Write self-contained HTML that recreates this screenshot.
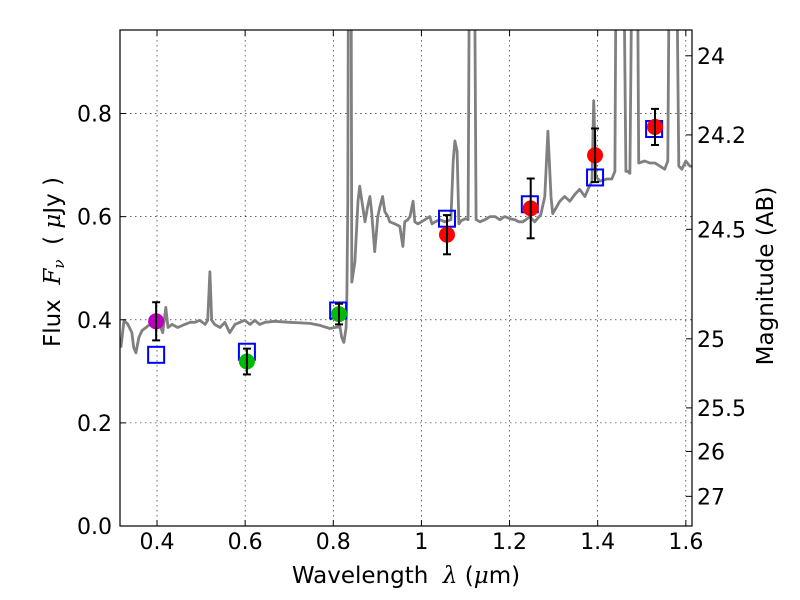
<!DOCTYPE html>
<html><head><meta charset="utf-8"><style>
body{margin:0;background:#fff;}
svg{display:block;font-family:"DejaVu Sans","Liberation Sans",sans-serif;}
</style></head><body>
<svg id="chart" width="800" height="600" viewBox="0 0 800 600"></svg>
<script>
const specLam=[0.318,0.325,0.334,0.343,0.347,0.352,0.359,0.366,0.375,0.384,0.395,0.406,0.413,0.420,0.425,0.434,0.447,0.463,0.475,0.486,0.497,0.509,0.515,0.520,0.524,0.531,0.543,0.554,0.565,0.577,0.588,0.599,0.611,0.622,0.633,0.645,0.667,0.701,0.747,0.770,0.792,0.804,0.815,0.819,0.824,0.829,0.831,0.833,0.835,0.840,0.842,0.849,0.856,0.860,0.865,0.872,0.878,0.883,0.887,0.894,0.901,0.906,0.912,0.917,0.924,0.928,0.940,0.951,0.958,0.962,0.969,0.974,0.981,0.985,0.992,1.008,1.019,1.024,1.031,1.042,1.053,1.067,1.072,1.076,1.081,1.085,1.090,1.099,1.106,1.110,1.119,1.124,1.133,1.144,1.156,1.167,1.178,1.189,1.201,1.212,1.221,1.230,1.237,1.246,1.257,1.271,1.280,1.287,1.294,1.298,1.305,1.314,1.325,1.337,1.348,1.359,1.371,1.378,1.387,1.391,1.396,1.405,1.421,1.432,1.439,1.443,1.457,1.464,1.468,1.473,1.480,1.489,1.493,1.507,1.518,1.530,1.541,1.552,1.559,1.564,1.577,1.584,1.591,1.600,1.609,1.614];
const specFlux=[0.346,0.399,0.391,0.375,0.346,0.336,0.366,0.379,0.385,0.391,0.395,0.391,0.375,0.424,0.385,0.391,0.385,0.391,0.395,0.395,0.399,0.391,0.399,0.493,0.399,0.391,0.385,0.395,0.375,0.391,0.395,0.399,0.391,0.399,0.391,0.395,0.397,0.395,0.393,0.389,0.383,0.385,0.387,0.366,0.356,0.385,0.450,0.630,1.3,1.3,0.473,0.512,0.630,0.659,0.630,0.590,0.620,0.639,0.610,0.532,0.600,0.620,0.639,0.610,0.600,0.590,0.586,0.581,0.542,0.590,0.594,0.600,0.630,0.590,0.586,0.594,0.600,0.586,0.590,0.594,0.590,0.594,0.708,0.747,0.727,0.586,0.592,0.596,0.594,1.3,1.3,0.594,0.590,0.594,0.600,0.600,0.594,0.600,0.596,0.594,0.590,0.590,0.594,0.600,0.590,0.604,0.639,0.766,0.639,0.606,0.616,0.630,0.639,0.630,0.643,0.653,0.639,0.653,0.669,0.825,0.678,0.669,0.673,0.673,0.688,1.3,1.3,0.688,0.688,0.684,1.3,1.3,0.704,0.708,0.704,0.704,0.698,0.692,0.708,1.3,1.3,0.698,0.692,0.708,0.698,0.698];
const photLam=[0.398,0.604,0.813,1.058,1.248,1.394,1.530];
const photFlux=[0.397,0.319,0.411,0.565,0.616,0.719,0.774];
const photErr=[0.037,0.025,0.02,0.038,0.058,0.052,0.035];
const photColor=['#bb00bb','#00bb00','#00bb00','#ff0000','#ff0000','#ff0000','#ff0000'];
const modelLam=[0.398,0.604,0.811,1.058,1.246,1.394,1.528];
const modelFlux=[0.332,0.338,0.418,0.596,0.624,0.676,0.770];
const xTicks=[0.4,0.6,0.8,1.0,1.2,1.4,1.6];
const xTickLabels=['0.4','0.6','0.8','1','1.2','1.4','1.6'];
const yTicks=[0.0,0.2,0.4,0.6,0.8];
const yTickLabels=['0.0','0.2','0.4','0.6','0.8'];
const magTicks=[24,24.2,24.5,25,25.5,26,27];
const magTickLabels=['24','24.2','24.5','25','25.5','26','27'];

const L=120,R=692,T=30,B=526, xmin=0.316,xmax=1.614,ymin=0,ymax=0.962;
const sx=v=>L+(v-xmin)/(xmax-xmin)*(R-L);
const sy=v=>B-(v-ymin)/(ymax-ymin)*(B-T);
const NS='http://www.w3.org/2000/svg';
const svg=document.getElementById('chart');
function mk(tag,attrs,parent){const e=document.createElementNS(NS,tag);for(const k in attrs)e.setAttribute(k,attrs[k]);(parent||svg).appendChild(e);return e;}

const defs=mk('defs',{});
const cp=mk('clipPath',{id:'clip'},defs);mk('rect',{x:L,y:T,width:R-L,height:B-T},cp);

const grid=mk('g',{});


xTicks.forEach(t=>{mk('line',{x1:sx(t),x2:sx(t),y1:T,y2:B,stroke:'#000','stroke-width':0.6,'stroke-dasharray':'1.5,3.5'},grid);});
yTicks.forEach(t=>{mk('line',{x1:L,x2:R,y1:sy(t),y2:sy(t),stroke:'#000','stroke-width':0.6,'stroke-dasharray':'1.5,3.5'},grid);});

let d='';specLam.forEach((l,i)=>{d+=(i?'L':'M')+sx(l).toFixed(1)+','+sy(specFlux[i]).toFixed(1);});
const sp=mk('path',{d:d,fill:'none',stroke:'#808080','stroke-width':2.8,'clip-path':'url(#clip)','stroke-linejoin':'round'});



modelLam.forEach((l,i)=>{
 const r=mk('rect',{x:sx(l)-8,y:sy(modelFlux[i])-8,width:16,height:16,fill:'none',stroke:'#0000ff','stroke-width':2});
 
 
});
photLam.forEach((l,i)=>{
 const g=mk('g',{});
 
 
 const x=sx(l),y1=sy(photFlux[i]+photErr[i]),y2=sy(photFlux[i]-photErr[i]);
 mk('circle',{cx:x,cy:sy(photFlux[i]),r:8,fill:photColor[i]},g);
 mk('line',{x1:x,x2:x,y1:y1,y2:y2,stroke:'#000','stroke-width':2},g);
 mk('line',{x1:x-4,x2:x+4,y1:y1,y2:y1,stroke:'#000','stroke-width':2},g);
 mk('line',{x1:x-4,x2:x+4,y1:y2,y2:y2,stroke:'#000','stroke-width':2},g);
});

const fr=mk('rect',{x:L,y:T,width:R-L,height:B-T,fill:'none',stroke:'#000','stroke-width':1.2});



xTicks.forEach((t,i)=>{
 mk('line',{x1:sx(t),x2:sx(t),y1:B,y2:B-6,stroke:'#000'});
 mk('line',{x1:sx(t),x2:sx(t),y1:T,y2:T+6,stroke:'#000'});
 const tx=mk('text',{x:sx(t),y:B+23,'text-anchor':'middle','font-size':22});
 tx.textContent=xTickLabels[i];
 
 
});
yTicks.forEach((t,i)=>{
 mk('line',{x1:L,x2:L+6,y1:sy(t),y2:sy(t),stroke:'#000'});
 const tx=mk('text',{x:L-8,y:sy(t)+8,'text-anchor':'end','font-size':22});
 tx.textContent=yTickLabels[i];
 
 
});
magTicks.forEach((m,i)=>{
 const f=Math.pow(10,(23.9-m)/2.5), y=sy(f);
 mk('line',{x1:R,x2:R-6,y1:y,y2:y,stroke:'#000'});
 const tx=mk('text',{x:R+5,y:y+8,'text-anchor':'start','font-size':22});
 tx.textContent=magTickLabels[i];
 
 
});
</script>
<svg style="position:absolute;left:0;top:0" width="800" height="600">
<text x="406" y="583" text-anchor="middle" font-size="23" font-family="DejaVu Sans, sans-serif" xml:space="preserve">Wavelength  <tspan font-style="italic" font-family="DejaVu Serif, serif">λ</tspan> (<tspan font-style="italic" font-family="DejaVu Serif, serif">μ</tspan>m)</text>
<text transform="translate(60,262) rotate(-90)" text-anchor="middle" font-size="23" font-family="DejaVu Sans, sans-serif" xml:space="preserve">Flux  <tspan font-style="italic" font-family="DejaVu Serif, serif">F</tspan><tspan font-style="italic" font-size="15" dy="4" font-family="DejaVu Serif, serif">ν</tspan><tspan dy="-4">  ( </tspan><tspan font-style="italic" font-family="DejaVu Serif, serif">μ</tspan>Jy )</text>
<text transform="translate(773,276) rotate(-90)" text-anchor="middle" font-size="23" font-family="DejaVu Sans, sans-serif">Magnitude (AB)</text>
</svg>
</body></html>
